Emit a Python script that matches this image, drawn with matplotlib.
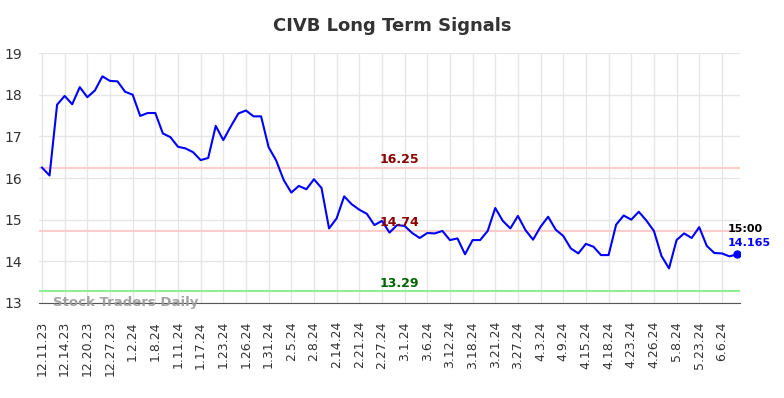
import matplotlib
matplotlib.use('Agg')
import matplotlib.pyplot as plt

# Datos de la serie
precios = [16.25, 16.06, 17.76, 17.97, 17.77, 18.18, 17.94, 18.10, 18.44, 18.33,
           18.32, 18.07, 18.00, 17.49, 17.56, 17.56, 17.07, 16.98, 16.75, 16.71,
           16.62, 16.43, 16.48, 17.25, 16.91, 17.24, 17.55, 17.62, 17.48, 17.48,
           16.74, 16.42, 15.95, 15.65, 15.81, 15.73, 15.97, 15.76, 14.79, 15.03,
           15.56, 15.37, 15.24, 15.14, 14.87, 14.97, 14.69, 14.87, 14.85, 14.68,
           14.56, 14.68, 14.67, 14.73, 14.51, 14.55, 14.17, 14.51, 14.51, 14.73,
           15.28, 14.97, 14.79, 15.09, 14.75, 14.52, 14.83, 15.07, 14.76, 14.61,
           14.31, 14.19, 14.42, 14.35, 14.15, 14.15, 14.88, 15.10, 15.00, 15.19,
           14.98, 14.73, 14.13, 13.83, 14.51, 14.67, 14.56, 14.82, 14.37, 14.20,
           14.19, 14.12, 14.165]

etiquetas = ['12.11.23', '12.14.23', '12.20.23', '12.27.23', '1.2.24', '1.8.24',
             '1.11.24', '1.17.24', '1.23.24', '1.26.24', '1.31.24', '2.5.24',
             '2.8.24', '2.14.24', '2.21.24', '2.27.24', '3.1.24', '3.6.24',
             '3.12.24', '3.18.24', '3.21.24', '3.27.24', '4.3.24', '4.9.24',
             '4.15.24', '4.18.24', '4.23.24', '4.26.24', '5.8.24', '5.23.24',
             '6.6.24']

nivel_alto = 16.25
nivel_medio = 14.74
nivel_bajo = 13.29
ultimo_valor = 14.165
hora = '15:00'

x = list(range(len(precios)))
pos_ticks = list(range(0, len(precios), 3))[:len(etiquetas)]

fig = plt.figure(figsize=(7.84, 3.98), dpi=100)
ax = fig.add_axes([0.0497, 0.2387, 0.8944, 0.6281])

ax.axhline(nivel_alto, color='#ffcccc', lw=1.5, zorder=1)
ax.axhline(nivel_medio, color='#ffcccc', lw=1.5, zorder=1)
ax.axhline(nivel_bajo, color='#90ee90', lw=1.5, zorder=1)

ax.plot(x, precios, color='blue', lw=1.5, zorder=3)
ax.plot(x[-1], precios[-1], 'o', color='blue', ms=5, zorder=4)

centro = (len(precios) - 1) / 2 + 1.3
ax.text(centro, nivel_alto + 0.03, f'{nivel_alto:.2f}', color='#8b0000',
        fontsize=9, fontweight='bold', ha='center', va='bottom')
ax.text(centro, nivel_medio + 0.03, f'{nivel_medio:.2f}', color='#8b0000',
        fontsize=9, fontweight='bold', ha='center', va='bottom')
ax.text(centro, nivel_bajo + 0.03, f'{nivel_bajo:.2f}', color='#006400',
        fontsize=9, fontweight='bold', ha='center', va='bottom')

ax.text(x[-1] - 1.2, 14.78, hora, color='black', fontsize=8,
        fontweight='bold', ha='left', va='center')
ax.text(x[-1] - 1.2, 14.44, f'{ultimo_valor}', color='blue', fontsize=8,
        fontweight='bold', ha='left', va='center')

ax.text(1.5, 13.0, 'Stock Traders Daily', color='#999999', fontsize=9.5,
        fontweight='bold', ha='left', va='center', alpha=0.9)

ax.set_xlim(-0.4, len(precios) - 1 + 0.42)
ax.set_ylim(13, 19)
ax.set_yticks([13, 14, 15, 16, 17, 18, 19])
ax.set_xticks(pos_ticks)
ax.set_xticklabels(etiquetas, rotation=90, fontsize=9, color='#333333')
ax.tick_params(axis='y', labelsize=10, colors='#333333', length=0, pad=12)
ax.tick_params(axis='x', length=0, pad=13)
ax.grid(True, color='#e6e6e6', lw=1)
ax.set_axisbelow(True)
for s in ['top', 'right', 'left']:
    ax.spines[s].set_visible(False)
ax.spines['bottom'].set_color('#555555')

fig.text(0.5, 0.935, 'CIVB Long Term Signals', ha='center', va='center',
         fontsize=13, fontweight='bold', color='#333333')

fig.savefig('out.png', dpi=100)
